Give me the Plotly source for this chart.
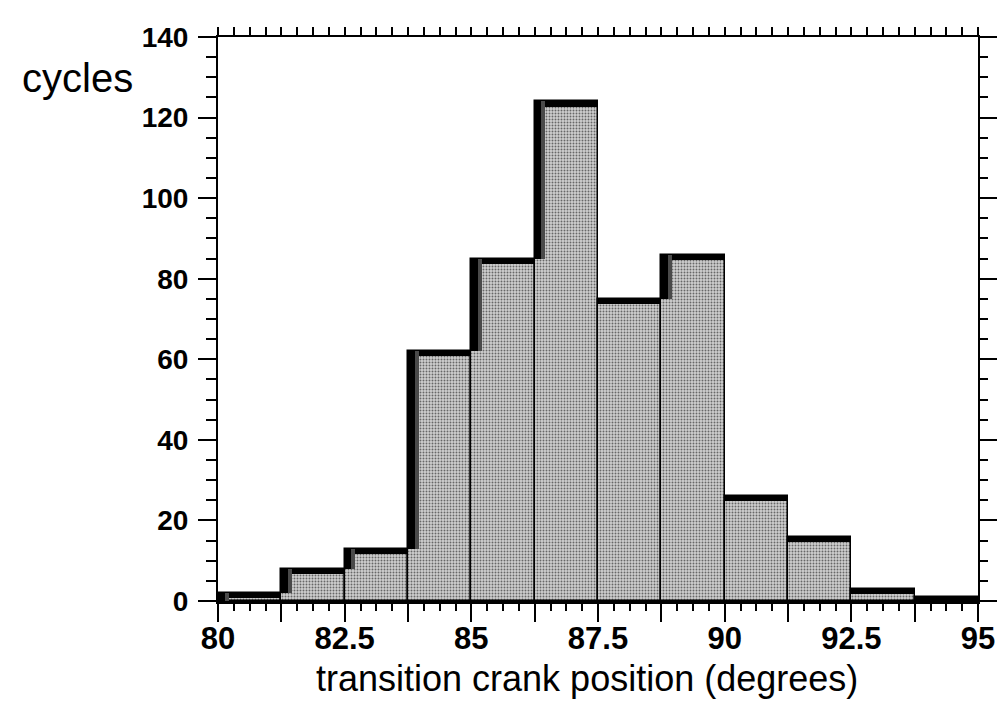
import numpy as np
import plotly.graph_objects as go

# ---- data ----
bin_start = 80.0
bin_width = 1.25
counts = [2, 8, 13, 62, 85, 124, 75, 86, 26, 16, 3, 1]
x_tick_labels = ["80", "82.5", "85", "87.5", "90", "92.5", "95"]
y_tick_values = [0, 20, 40, 60, 80, 100, 120, 140]
x_title = "transition crank position (degrees)"
y_title = "cycles"

# ---- derived ----
n = len(counts)
edges = bin_start + bin_width * np.arange(n + 1)
centers = edges[:-1] + bin_width / 2
counts_a = np.array(counts, dtype=float)
prev = np.concatenate([[0.0], counts_a[:-1]])
rise = np.clip(counts_a - prev, 0, None)

label_map = {float(t): t for t in x_tick_labels}
ticktext = [label_map.get(float(e), "") for e in edges]

FONT = "Liberation Sans, Arial, Helvetica, sans-serif"
top_band = 1.3

# page geometry (the html body adds an 8px offset)
W, H = 999, 710
ML, MR, MT, MB = 210, 23, 27, 117
PW = W - ML - MR
PH = H - MT - MB
PLOT_LEFT, PLOT_TOP = 8 + ML, 8 + MT
PLOT_BOTTOM = PLOT_TOP + PH

fig = go.Figure()

# main gray (halftone-like) bars
fig.add_trace(go.Bar(
    x=centers, y=counts_a, width=bin_width,
    marker=dict(color="#a8a8a8",
                pattern=dict(shape=".", fgcolor="#000000", bgcolor="#cfcfcf",
                             size=3, solidity=0.32),
                line=dict(color="black", width=1.5)),
    showlegend=False, hoverinfo="skip"))

# top dark band (shadow)
band = np.minimum(counts_a, top_band)
fig.add_trace(go.Bar(
    x=centers, y=band, base=counts_a - band,
    width=bin_width, marker=dict(color="black", line=dict(width=0)),
    showlegend=False, hoverinfo="skip"))

# left dark band on rising steps (shadow)
fig.add_trace(go.Bar(
    x=edges[:-1], y=rise, base=prev, width=0.13, offset=0,
    marker=dict(color="black", line=dict(width=0)),
    showlegend=False, hoverinfo="skip"))
fig.add_trace(go.Bar(
    x=edges[:-1] + 0.13, y=rise, base=prev, width=0.08, offset=0,
    marker=dict(color="#4a4a4a", line=dict(width=0)),
    showlegend=False, hoverinfo="skip"))

# invisible trace to anchor mirrored axes
fig.add_trace(go.Scatter(
    x=[edges[0], edges[-1]], y=[y_tick_values[0], y_tick_values[-1]],
    xaxis="x2", yaxis="y2", mode="markers", marker=dict(opacity=0),
    showlegend=False, hoverinfo="skip"))

fig.update_layout(
    width=W, height=H,
    margin=dict(l=ML, r=MR, t=MT, b=MB),
    paper_bgcolor="white", plot_bgcolor="white",
    barmode="overlay", bargap=0,
    font=dict(family=FONT, color="black"),
    xaxis=dict(
        range=[edges[0], edges[-1]], tickmode="array", tickvals=edges, ticktext=ticktext,
        ticks="outside", ticklen=18, tickwidth=2, tickcolor="black",
        minor=dict(dtick=bin_width / 4, tick0=edges[0], ticks="outside", ticklen=7,
                   tickwidth=1.5, tickcolor="black"),
        showline=True, linewidth=3, linecolor="black", showgrid=False, zeroline=False,
        tickfont=dict(size=31, family=FONT, weight="bold"), ticklabelstandoff=-10,
    ),
    xaxis2=dict(
        range=[edges[0], edges[-1]], overlaying="x", side="top", anchor="y2",
        tickmode="array", tickvals=edges, ticktext=[""] * len(edges),
        ticks="outside", ticklen=17, tickwidth=2, tickcolor="black",
        minor=dict(dtick=bin_width / 4, tick0=edges[0], ticks="outside", ticklen=8,
                   tickwidth=1.5, tickcolor="black"),
        showline=True, linewidth=2, linecolor="black", showgrid=False, zeroline=False,
        showticklabels=False,
    ),
    yaxis=dict(
        range=[y_tick_values[0], y_tick_values[-1]], tickmode="array", tickvals=y_tick_values,
        ticks="outside", ticklen=18, tickwidth=2, tickcolor="black",
        minor=dict(dtick=5, ticks="outside", ticklen=10, tickwidth=1.5, tickcolor="black"),
        showline=True, linewidth=2, linecolor="black", showgrid=False, zeroline=False,
        tickfont=dict(size=28, family=FONT, weight="bold"), ticklabelstandoff=4,
    ),
    yaxis2=dict(
        range=[y_tick_values[0], y_tick_values[-1]], overlaying="y", side="right", anchor="x2",
        tickmode="array", tickvals=y_tick_values,
        ticks="outside", ticklen=17, tickwidth=2, tickcolor="black",
        minor=dict(dtick=5, ticks="outside", ticklen=8, tickwidth=1.5, tickcolor="black"),
        showline=True, linewidth=2, linecolor="black", showgrid=False, zeroline=False,
        showticklabels=False,
    ),
    annotations=[
        dict(text=y_title, xref="paper", yref="paper",
             x=(18 - PLOT_LEFT) / PW, y=1 - (76 - PLOT_TOP) / PH,
             xanchor="left", yanchor="middle", showarrow=False,
             font=dict(size=40, family=FONT, color="black")),
        dict(text=x_title, xref="paper", yref="paper",
             x=(590 - PLOT_LEFT) / PW, y=-(656 - PLOT_BOTTOM) / PH,
             xanchor="center", yanchor="top", showarrow=False,
             font=dict(size=36, family=FONT, color="black")),
    ],
)

fig.write_html("out.html")
